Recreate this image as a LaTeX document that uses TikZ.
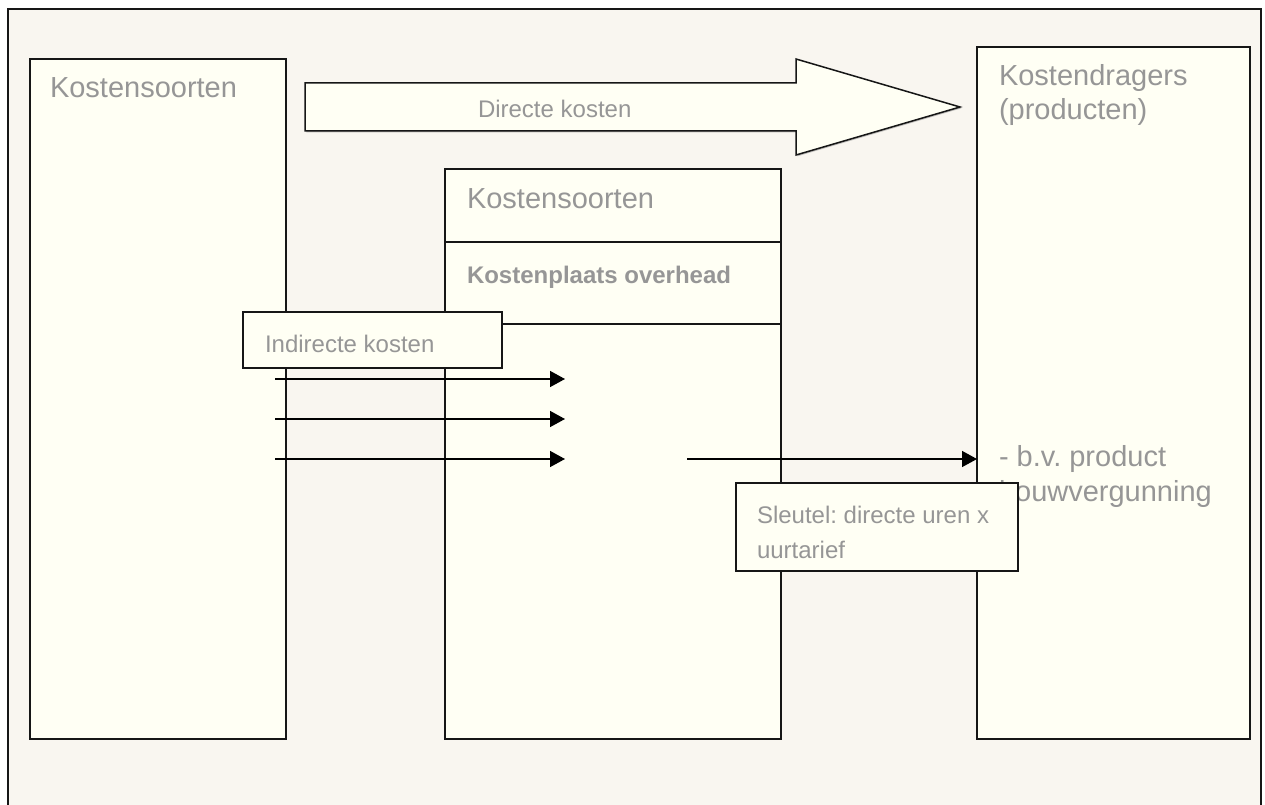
\documentclass[tikz,border=0pt]{standalone}
\usepackage{fontspec}
\setmainfont{Liberation Sans}
\usetikzlibrary{arrows.meta,shadows}
\definecolor{bgbeige}{HTML}{F9F6F0}
\definecolor{boxfill}{HTML}{FFFFF4}
\definecolor{txtgray}{HTML}{969696}
\definecolor{linek}{HTML}{161616}
\frenchspacing
\begin{document}
\begin{tikzpicture}[x=1pt,y=-1pt,
  panel/.style={draw=linek, line width=1.8pt, fill=boxfill, rectangle, anchor=north west,
    inner sep=0pt, outer sep=0pt,
    drop shadow={shadow xshift=1.3pt, shadow yshift=-1.3pt, fill=black!45, opacity=0.55}},
  lbl/.style={anchor=base west, inner sep=0pt, outer sep=0pt, text=txtgray,
    font=\fontsize{29}{34}\selectfont\frenchspacing, align=left},
  lblsmall/.style={lbl, font=\fontsize{24}{35}\selectfont\frenchspacing},
  flow/.style={line width=1.5pt, draw=black, -{Triangle[length=15pt,width=16pt]}},
  divider/.style={line width=1.5pt, draw=linek},
]
\useasboundingbox (0,0) rectangle (1265,805);
% page and frame
\fill[white] (0,0) rectangle (1265,805);
\fill[bgbeige] (8,9) rectangle (1261,805);
\draw[line width=1.5pt, linek] (8,806) -- (8,9) -- (1261,9) -- (1261,806);

% main panels
\node[panel, minimum width=256pt, minimum height=680pt] (lbox) at (30,59) {};
\node[panel, minimum width=273pt, minimum height=692pt] (rbox) at (977,47) {};
\node[panel, minimum width=336pt, minimum height=570pt] (mbox) at (445,169) {};
\draw[divider] (445,242) -- (781,242);
\draw[divider] (445,324) -- (781,324);

% big arrow (direct costs)
\draw[line width=1.5pt, draw=linek, fill=boxfill,
  drop shadow={shadow xshift=1.3pt, shadow yshift=-1.3pt, fill=black!45, opacity=0.55}]
  (305,83) -- (796,83) -- (796,59) -- (960,107) -- (796,155) -- (796,131) -- (305,131) -- cycle;
\node[lblsmall] (tdirect) at (478,118) {Directe kosten};

% indirect costs box
\node[panel, minimum width=259pt, minimum height=56pt] (ibox) at (243,312) {};
\node[lblsmall] (tindirect) at (265,352) {Indirecte kosten};

% labels
\node[lbl] (tks1) at (50,98) {Kostensoorten};
\node[lbl] (tks2) at (467,208) {Kostensoorten};
\node[lblsmall, font=\fontsize{24}{35}\selectfont\bfseries] (tkp) at (467,283) {Kostenplaats overhead};
\node[lbl] (tkd1) at (999,86) {Kostendragers};
\node[lbl] (tkd2) at (999,120) {(producten)};
\node[lbl] (tbv1) at (999,466) {- b.v. product};
\node[lbl] (tbv2) at (999,501) {bouwvergunning};

% flows
\coordinate (a1s) at (275,379); \coordinate (a1e) at (565,379);
\coordinate (a2s) at (275,419); \coordinate (a2e) at (565,419);
\coordinate (a3s) at (275,459); \coordinate (a3e) at (565,459);
\coordinate (a4s) at (687,459);
\draw[flow] (a1s) -- (a1e);
\draw[flow] (a2s) -- (a2e);
\draw[flow] (a3s) -- (a3e);
\draw[flow] (a4s) -- (a4s -| rbox.west);

% key box
\node[panel, minimum width=282pt, minimum height=88pt] (sbox) at (736,483) {};
\node[lblsmall] (ts1) at (757,523) {Sleutel: directe uren x};
\node[lblsmall] (ts2) at (757,558) {uurtarief};
\end{tikzpicture}
\end{document}
